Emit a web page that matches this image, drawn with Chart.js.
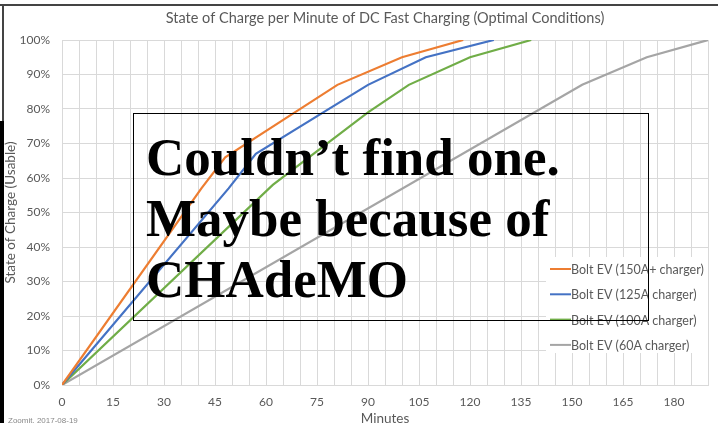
<!DOCTYPE html>
<html>
<head>
<meta charset="utf-8">
<script src="https://cdn.jsdelivr.net/npm/chart.js@4.4.1/dist/chart.umd.min.js"></script>
<style>
  html, body { margin: 0; padding: 0; background: #fff; }
  #wrap { position: relative; width: 718px; height: 423px; overflow: hidden; }
  #chart { position: absolute; left: 0; top: 0; }
  .edge { position: absolute; background: #222; }
  #note {
    position: absolute; left: 133px; top: 113px; width: 516px; height: 208px;
    box-sizing: border-box; border: 1.5px solid #000;
    padding: 13px 0 0 12px;
    font: bold 53px/61px "Liberation Serif", "Times New Roman", serif;
    color: #000; white-space: nowrap;
  }
  #stamp { position: absolute; left: 8px; top: 416px; font: 8px "Liberation Sans", sans-serif; color: #888; }
</style>
</head>
<body>
<div id="wrap">
  <canvas id="chart" width="718" height="423"></canvas>
  <div class="edge" style="left:0;top:4px;width:718px;height:1.5px;background:#444"></div>
  <div class="edge" style="left:2px;top:4px;width:1.5px;height:120px;background:#444"></div>
  <div class="edge" style="left:0;top:121px;width:4px;height:302px;background:#000"></div>
  <div id="note">Couldn’t find one.<br>Maybe because of<br>CHAdeMO</div>
  <div id="stamp">Zoomit, 2017-08-19</div>
</div>
<script>
// minutes vs state of charge (%) for each charger
const minutes150 = [0, 41, 48, 81, 100, 118];
const soc150     = [0, 57, 66, 87, 95, 100];
const minutes125 = [0, 49, 57, 90, 107, 127];
const soc125     = [0, 57, 67, 87, 95, 100];
const minutes100 = [0, 62, 90, 102, 120, 138];
const soc100     = [0, 58, 79, 87, 95, 100];
const minutes60  = [0, 153, 172, 190];
const soc60      = [0, 87, 95, 100];

const seriesNames = ['Bolt EV (150A+ charger)', 'Bolt EV (125A charger)', 'Bolt EV (100A charger)', 'Bolt EV (60A charger)'];
const seriesColors = ['#ED7D31', '#4472C4', '#70AD47', '#A5A5A5'];

const labelColor = '#595959';
const gridColor = '#D9D9D9';

const toPoints = (xs, ys) => xs.map((x, i) => ({ x: x, y: ys[i] }));
const allMinutes = [minutes150, minutes125, minutes100, minutes60];
const allSoc = [soc150, soc125, soc100, soc60];

// legend drawn inside the plot, lower right, on a white patch
const insideLegend = {
  id: 'insideLegend',
  afterDatasetsDraw(chart) {
    const ctx = chart.ctx;
    const area = chart.chartArea;
    const x0 = area.right - 158;
    const y0 = area.bottom - 116;
    ctx.save();
    ctx.fillStyle = '#fff';
    ctx.fillRect(x0 - 4, y0 - 12, 162, 96);
    ctx.font = '12.5px Lato';
    ctx.textBaseline = 'middle';
    chart.data.datasets.forEach((ds, i) => {
      const y = y0 + i * 25.3;
      ctx.strokeStyle = ds.borderColor;
      ctx.lineWidth = 2;
      ctx.beginPath();
      ctx.moveTo(x0, y);
      ctx.lineTo(x0 + 21, y);
      ctx.stroke();
      ctx.fillStyle = labelColor;
      ctx.fillText(ds.label, x0 + 21, y + 1);
    });
    ctx.restore();
  }
};

new Chart(document.getElementById('chart'), {
  type: 'scatter',
  data: {
    datasets: seriesNames.map((name, i) => ({
      label: name,
      data: toPoints(allMinutes[i], allSoc[i]),
      showLine: true,
      borderColor: seriesColors[i],
      backgroundColor: seriesColors[i],
      borderWidth: 2.2,
      pointRadius: 0,
      tension: 0
    }))
  },
  options: {
    responsive: false,
    animation: false,
    devicePixelRatio: 1,
    layout: { padding: { left: 4, right: 10, top: 0, bottom: 0 } },
    plugins: {
      legend: { display: false },
      tooltip: { enabled: false },
      title: {
        display: true,
        fullSize: false,
        text: 'State of Charge per Minute of DC Fast Charging (Optimal Conditions)',
        color: labelColor,
        font: { family: 'Lato', size: 14.5, weight: 'normal' },
        padding: { top: 10, bottom: 12.6 }
      }
    },
    scales: {
      x: {
        type: 'linear',
        min: 0,
        max: 190,
        afterFit: (s) => { s.height = 38; },
        border: { color: gridColor },
        grid: { color: gridColor, drawTicks: false },
        ticks: {
          stepSize: 5,
          autoSkip: false,
          maxRotation: 0,
          padding: 10,
          color: labelColor,
          font: { family: 'Lato', size: 12 },
          callback: (v) => (v % 15 === 0 ? v : '')
        },
        title: {
          display: true,
          text: 'Minutes',
          color: labelColor,
          font: { family: 'Lato', size: 13.5 },
          padding: { top: 0, bottom: -3.5 }
        }
      },
      y: {
        min: 0,
        max: 100,
        afterFit: (s) => { s.width = 58; },
        border: { display: false },
        grid: { color: gridColor, drawTicks: false },
        ticks: {
          stepSize: 10,
          padding: 12,
          color: labelColor,
          font: { family: 'Lato', size: 12 },
          callback: (v) => v + '%'
        },
        title: {
          display: true,
          text: 'State of Charge (Usable)',
          color: labelColor,
          font: { family: 'Lato', size: 13.5 },
          padding: { top: -1, bottom: 0 }
        }
      }
    }
  },
  plugins: [insideLegend]
});
</script>
</body>
</html>
